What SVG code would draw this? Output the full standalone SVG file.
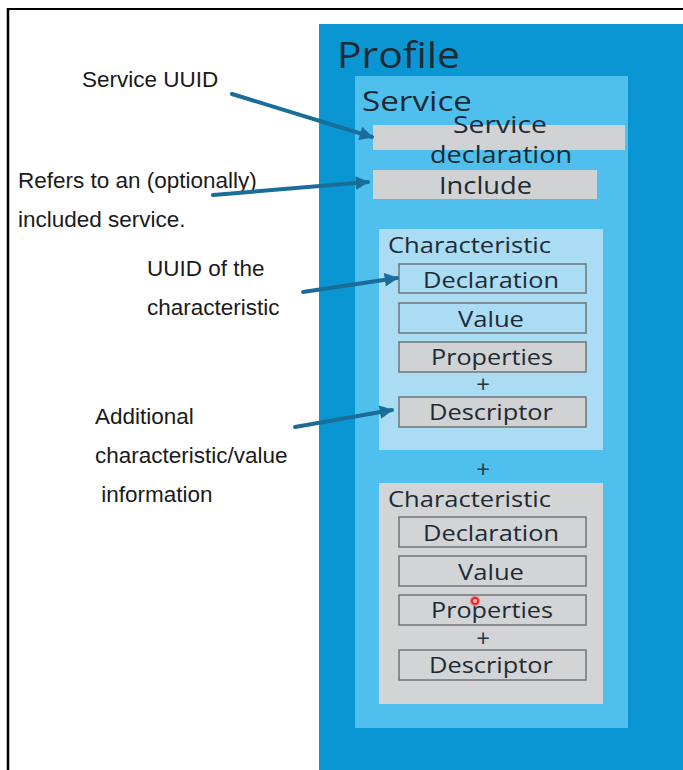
<svg xmlns="http://www.w3.org/2000/svg" width="683" height="770" viewBox="0 0 683 770">
<defs>
<style>
.lbl{font-family:"Liberation Sans",Arial,sans-serif;font-size:22.5px;fill:#1a1a1a}
.bx{font-family:"Open Sans","DejaVu Sans",sans-serif;fill:#1e2a33}
.t21{font-size:22px;text-anchor:middle}
.pl{font-family:"Open Sans","DejaVu Sans",sans-serif;fill:#2a3640;font-size:24px;text-anchor:middle}
.cell{stroke:#6f7479;stroke-width:1.5}
.arr{stroke:#1b6d99;stroke-width:4;fill:none;stroke-linecap:round;marker-end:url(#ah)}
</style>
<marker id="ah" viewBox="0 0 10 10" refX="9" refY="5" markerWidth="4" markerHeight="3.4" orient="auto" markerUnits="strokeWidth">
<path d="M0,0 L10,5 L0,10 Z" fill="#1b6d99"/>
</marker>
<radialGradient id="dot">
<stop offset="0" stop-color="#ff3b3b"/>
<stop offset="0.55" stop-color="#e8101a"/>
<stop offset="1" stop-color="#ff8080" stop-opacity="0"/>
</radialGradient>
</defs>
<rect width="683" height="770" fill="#ffffff"/>
<line x1="8" y1="9" x2="683" y2="9" stroke="#000" stroke-width="2"/>
<line x1="8" y1="8" x2="8" y2="770" stroke="#000" stroke-width="2.5"/>

<g id="profile">
<rect x="319" y="24" width="364" height="746" fill="#0996d2"/>
<text x="337" y="68" class="bx" font-size="36" textLength="123" lengthAdjust="spacingAndGlyphs">Profile</text>
</g>
<g id="service">
<rect x="355" y="76" width="273" height="652" fill="#4fc0ee"/>
<text x="362" y="111" class="bx" font-size="27" textLength="110" lengthAdjust="spacingAndGlyphs">Service</text>
</g>
<g id="service-declaration">
<rect x="373" y="125" width="252" height="25" fill="#d0d2d4"/>
<text x="453" y="133" class="bx" font-size="24" textLength="94" lengthAdjust="spacingAndGlyphs">Service</text>
<text x="430" y="163" class="bx" font-size="24" textLength="142" lengthAdjust="spacingAndGlyphs">declaration</text>
</g>
<g id="include">
<rect x="373" y="170" width="224" height="29" fill="#d0d2d4"/>
<text x="439" y="194" class="bx" font-size="24" textLength="93" lengthAdjust="spacingAndGlyphs">Include</text>
</g>

<g id="characteristic-1">
<rect x="379" y="229" width="224" height="221" fill="#aadcf4"/>
<text x="388" y="253" class="bx" font-size="21" textLength="163" lengthAdjust="spacingAndGlyphs">Characteristic</text>
</g>
<g id="c1-declaration">
<rect x="399" y="264" width="187" height="29" fill="#aadcf4" class="cell"/>
<text x="491" y="288" class="bx t21" textLength="136" lengthAdjust="spacingAndGlyphs">Declaration</text>
</g>
<g id="c1-value">
<rect x="399" y="303" width="187" height="30" fill="#aadcf4" class="cell"/>
<text x="491" y="327" class="bx t21" textLength="66" lengthAdjust="spacingAndGlyphs">Value</text>
</g>
<g id="c1-properties">
<rect x="399" y="342" width="187" height="30" fill="#d0d2d4" class="cell"/>
<text x="492" y="365" class="bx t21" textLength="122" lengthAdjust="spacingAndGlyphs">Properties</text>
<text x="483" y="393" class="pl">+</text>
</g>
<g id="c1-descriptor">
<rect x="399" y="397" width="187" height="30" fill="#d0d2d4" class="cell"/>
<text x="491" y="420" class="bx t21" textLength="124" lengthAdjust="spacingAndGlyphs">Descriptor</text>
</g>

<text x="483" y="478" class="pl">+</text>

<g id="characteristic-2">
<rect x="379" y="483" width="224" height="221" fill="#d3d4d6"/>
<text x="388" y="507" class="bx" font-size="21" textLength="163" lengthAdjust="spacingAndGlyphs">Characteristic</text>
</g>
<g id="c2-declaration">
<rect x="399" y="517" width="187" height="30" fill="#d3d4d6" class="cell"/>
<text x="491" y="541" class="bx t21" textLength="136" lengthAdjust="spacingAndGlyphs">Declaration</text>
</g>
<g id="c2-value">
<rect x="399" y="556" width="187" height="30" fill="#d3d4d6" class="cell"/>
<text x="491" y="580" class="bx t21" textLength="66" lengthAdjust="spacingAndGlyphs">Value</text>
</g>
<g id="c2-properties">
<rect x="399" y="595" width="187" height="30" fill="#d3d4d6" class="cell"/>
<text x="492" y="618" class="bx t21" textLength="122" lengthAdjust="spacingAndGlyphs">Properties</text>
<text x="483" y="647" class="pl">+</text>
</g>
<g id="c2-descriptor">
<rect x="399" y="650" width="187" height="30" fill="#d3d4d6" class="cell"/>
<text x="491" y="673" class="bx t21" textLength="124" lengthAdjust="spacingAndGlyphs">Descriptor</text>
</g>

<circle cx="475" cy="601" r="6" fill="url(#dot)"/>
<circle cx="475" cy="601" r="2.2" fill="#ffb0b0"/>

<g id="labels">
<text x="82" y="87" class="lbl">Service UUID</text>
<text x="18" y="188" class="lbl">Refers to an (optionally)</text>
<text x="18" y="227" class="lbl">included service.</text>
<text x="147" y="276" class="lbl">UUID of the</text>
<text x="147" y="315" class="lbl">characteristic</text>
<text x="95" y="424" class="lbl">Additional</text>
<text x="95" y="463" class="lbl">characteristic/value</text>
<text x="95" y="502" class="lbl" xml:space="preserve"> information</text>
</g>

<g id="connectors">
<line x1="232" y1="94" x2="372" y2="137" class="arr"/>
<line x1="213" y1="195" x2="368" y2="182" class="arr"/>
<line x1="303" y1="292" x2="397" y2="278" class="arr"/>
<line x1="295" y1="427" x2="392" y2="410" class="arr"/>
</g>
</svg>
